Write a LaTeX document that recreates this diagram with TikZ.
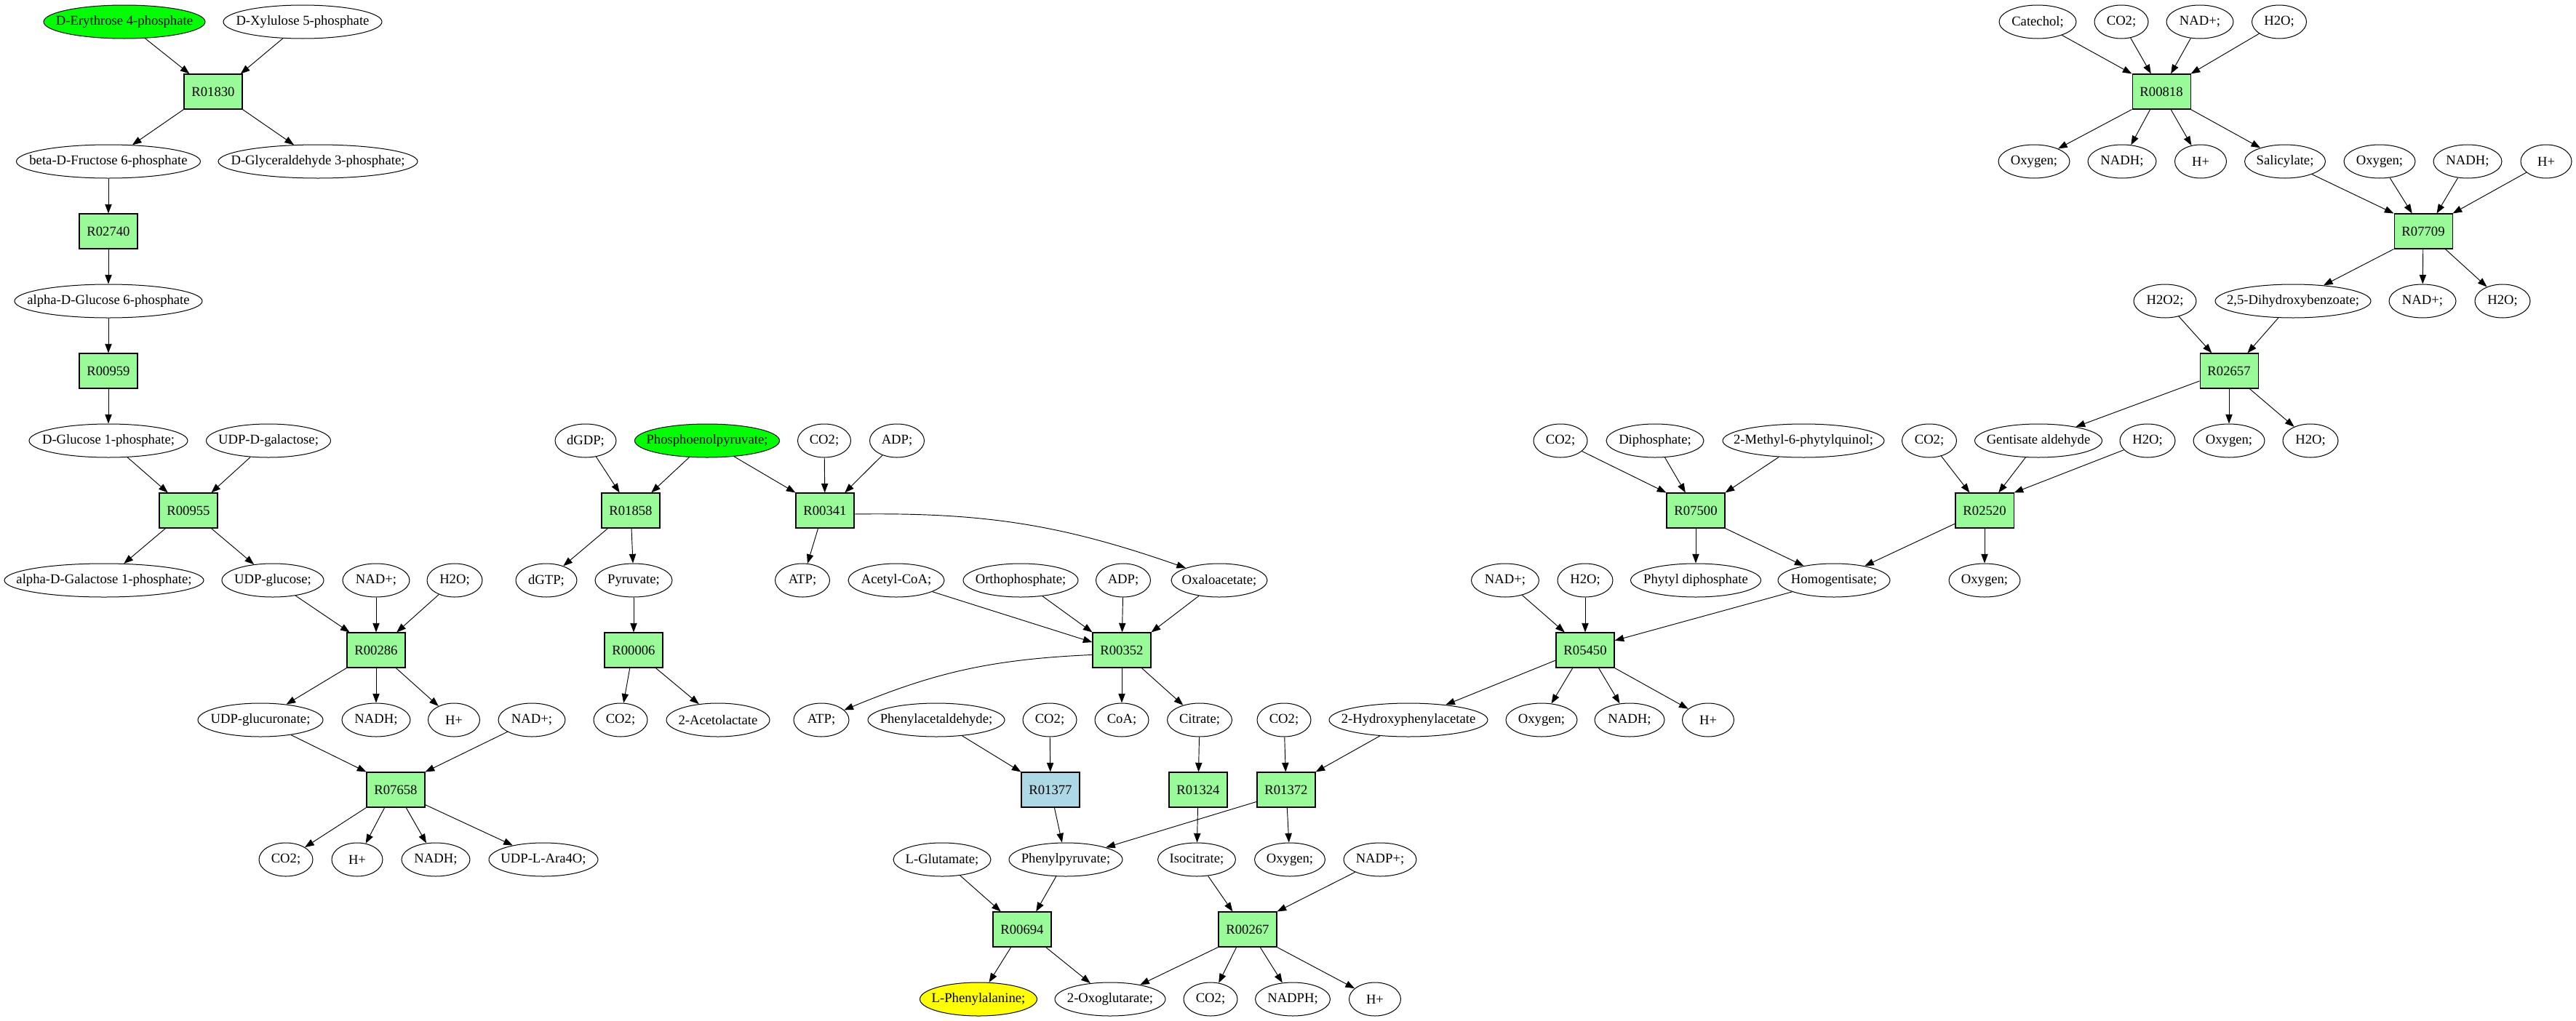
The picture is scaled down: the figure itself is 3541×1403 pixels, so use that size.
\documentclass[tikz,border=0pt]{standalone}
\usepackage{fontspec}
\setmainfont{Liberation Serif}
\usetikzlibrary{shapes.geometric,arrows.meta}
\definecolor{pgreen}{HTML}{98FB98}
\definecolor{lblue}{HTML}{ADD8E6}
\definecolor{vgreen}{HTML}{00FF00}
\definecolor{vyellow}{HTML}{FFFF00}
\newcommand\mlbl[1]{\makebox[0pt]{#1}}
\begin{document}
\begin{tikzpicture}[x=0.75pt,y=-0.75pt,
  met/.style={ellipse, draw, line width=0.75pt, inner sep=0pt, minimum height=34.5pt, minimum width=#1*0.75pt, font=\fontsize{14pt}{16pt}\selectfont},
  rxn/.style={rectangle, draw, line width=0.8pt, fill=pgreen, minimum width=60pt, minimum height=36pt, inner sep=0pt, font=\fontsize{14pt}{16pt}\selectfont},
  ed/.style={-{Triangle[length=9.5pt,width=7pt]}, line width=0.7pt}]
\useasboundingbox (0,0) rectangle (3541,1403);
% rank 0
\node[met=222, fill=vgreen] (ery) at (171,30) {\mlbl{D-Erythrose 4-phosphate}};
\node[met=218] (xyl) at (416,30) {\mlbl{D-Xylulose 5-phosphate}};
\node[met=106] (cat) at (2801,30) {\mlbl{Catechol;}};
\node[met=74] (co2a) at (2916,30) {\mlbl{CO2;}};
\node[met=92] (nada) at (3024,30) {\mlbl{NAD+;}};
\node[met=75] (h2oa) at (3133,30) {\mlbl{H2O;}};
% rank 1
\node[rxn] (r01830) at (293,126) {R01830};
\node[rxn] (r00818) at (2971,126) {R00818};
% rank 2
\node[met=253] (fru) at (149,222) {\mlbl{beta-D-Fructose 6-phosphate}};
\node[met=274] (gap) at (437,222) {\mlbl{D-Glyceraldehyde 3-phosphate;}};
\node[met=98] (oxya) at (2796,222) {\mlbl{Oxygen;}};
\node[met=94] (nadha) at (2917,222) {\mlbl{NADH;}};
\node[met=71] (hpa) at (3025,222) {\mlbl{H+}};
\node[met=111] (sal) at (3141,222) {\mlbl{Salicylate;}};
\node[met=98] (oxyb) at (3271,222) {\mlbl{Oxygen;}};
\node[met=94] (nadhb) at (3392,222) {\mlbl{NADH;}};
\node[met=70] (hpb) at (3500,222) {\mlbl{H+}};
% rank 3
\node[rxn] (r02740) at (149,318) {R02740};
\node[rxn] (r07709) at (3331,318) {R07709};
% rank 4
\node[met=258] (g6p) at (149,414) {\mlbl{alpha-D-Glucose 6-phosphate}};
\node[met=86] (h2o2) at (2976,414) {\mlbl{H2O2;}};
\node[met=214] (dhb) at (3152,414) {\mlbl{2,5-Dihydroxybenzoate;}};
\node[met=92] (nadb) at (3330,414) {\mlbl{NAD+;}};
\node[met=76] (h2ob) at (3440,414) {\mlbl{H2O;}};
% rank 5
\node[rxn] (r00959) at (149,510) {R00959};
\node[rxn] (r02657) at (3064,510) {R02657};
% rank 6
\node[met=218] (g1p) at (149,606) {\mlbl{D-Glucose 1-phosphate;}};
\node[met=171] (udpgal) at (369,606) {\mlbl{UDP-D-galactose;}};
\node[met=84] (dgdp) at (805,606) {\mlbl{dGDP;}};
\node[met=199, fill=vgreen] (pep) at (972,606) {\mlbl{Phosphoenolpyruvate;}};
\node[met=73] (co2b) at (1133,606) {\mlbl{CO2;}};
\node[met=75] (adpa) at (1233,606) {\mlbl{ADP;}};
\node[met=74] (co2c) at (2145,606) {\mlbl{CO2;}};
\node[met=134] (diphos) at (2275,606) {\mlbl{Diphosphate;}};
\node[met=222] (mpq) at (2479,606) {\mlbl{2-Methyl-6-phytylquinol;}};
\node[met=75] (co2d) at (2652,606) {\mlbl{CO2;}};
\node[met=175] (gent) at (2802,606) {\mlbl{Gentisate aldehyde}};
\node[met=76] (h2oc) at (2952,606) {\mlbl{H2O;}};
\node[met=98] (oxyc) at (3064,606) {\mlbl{Oxygen;}};
\node[met=76] (h2od) at (3176,606) {\mlbl{H2O;}};
% rank 7
\node[rxn] (r00955) at (259,702) {R00955};
\node[rxn] (r01858) at (867,702) {R01858};
\node[rxn] (r00341) at (1134,702) {R00341};
\node[rxn] (r07500) at (2331,702) {R07500};
\node[rxn] (r02520) at (2728,702) {R02520};
% rank 8
\node[met=274] (agal) at (143,798) {\mlbl{alpha-D-Galactose 1-phosphate;}};
\node[met=140] (udpglc) at (375,798) {\mlbl{UDP-glucose;}};
\node[met=92] (nadc) at (517,798) {\mlbl{NAD+;}};
\node[met=76] (h2oe) at (625,798) {\mlbl{H2O;}};
\node[met=84] (dgtp) at (751,798) {\mlbl{dGTP;}};
\node[met=106] (pyr) at (871,798) {\mlbl{Pyruvate;}};
\node[met=75] (atpa) at (1103,798) {\mlbl{ATP;}};
\node[met=132] (accoa) at (1232,798) {\mlbl{Acetyl-CoA;}};
\node[met=158] (orth) at (1403,798) {\mlbl{Orthophosphate;}};
\node[met=75] (adpb) at (1544,798) {\mlbl{ADP;}};
\node[met=132] (oaa) at (1676,798) {\mlbl{Oxaloacetate;}};
\node[met=93] (nadd) at (2069,798) {\mlbl{NAD+;}};
\node[met=76] (h2of) at (2179,798) {\mlbl{H2O;}};
\node[met=179] (phytyl) at (2331,798) {\mlbl{Phytyl diphosphate}};
\node[met=154] (hgn) at (2521,798) {\mlbl{Homogentisate;}};
\node[met=98] (oxyd) at (2728,798) {\mlbl{Oxygen;}};
% rank 9
\node[rxn] (r00286) at (517,894) {R00286};
\node[rxn] (r00006) at (871,894) {R00006};
\node[rxn] (r00352) at (1542,894) {R00352};
\node[rxn] (r05450) at (2179,894) {R05450};
% rank 10
\node[met=172] (udpgca) at (358,990) {\mlbl{UDP-glucuronate;}};
\node[met=94] (nadhc) at (517,990) {\mlbl{NADH;}};
\node[met=71] (hpc) at (624,990) {\mlbl{H+}};
\node[met=92] (nade) at (731,990) {\mlbl{NAD+;}};
\node[met=74] (co2e) at (853,990) {\mlbl{CO2;}};
\node[met=142] (acl) at (987,990) {\mlbl{2-Acetolactate}};
\node[met=76] (atpb) at (1129,990) {\mlbl{ATP;}};
\node[met=188] (pacet) at (1287,990) {\mlbl{Phenylacetaldehyde;}};
\node[met=74] (co2f) at (1443,990) {\mlbl{CO2;}};
\node[met=74] (coa) at (1542,990) {\mlbl{CoA;}};
\node[met=89] (cit) at (1649,990) {\mlbl{Citrate;}};
\node[met=74] (co2g) at (1765,990) {\mlbl{CO2;}};
\node[met=218] (hpa2) at (1936,990) {\mlbl{2-Hydroxyphenylacetate}};
\node[met=98] (oxye) at (2119,990) {\mlbl{Oxygen;}};
\node[met=96] (nadhd) at (2240,990) {\mlbl{NADH;}};
\node[met=71] (hpd) at (2348,990) {\mlbl{H+}};
% rank 11
\node[rxn] (r07658) at (544,1086) {R07658};
\node[rxn, fill=lblue] (r01377) at (1444,1086) {R01377};
\node[rxn] (r01324) at (1647,1086) {R01324};
\node[rxn] (r01372) at (1768,1086) {R01372};
% rank 12
\node[met=74] (co2h) at (393,1182) {\mlbl{CO2;}};
\node[met=70] (hpe) at (491,1182) {\mlbl{H+}};
\node[met=94] (nadhe) at (599,1182) {\mlbl{NADH;}};
\node[met=150] (udpara) at (747,1182) {\mlbl{UDP-L-Ara4O;}};
\node[met=134] (lglu) at (1295,1182) {\mlbl{L-Glutamate;}};
\node[met=156] (ppyr) at (1465,1182) {\mlbl{Phenylpyruvate;}};
\node[met=107] (icit) at (1645,1182) {\mlbl{Isocitrate;}};
\node[met=97] (oxyf) at (1773,1182) {\mlbl{Oxygen;}};
\node[met=100] (nadp) at (1897,1182) {\mlbl{NADP+;}};
% rank 13
\node[rxn] (r00694) at (1405,1278) {R00694};
\node[rxn] (r00267) at (1715,1278) {R00267};
% rank 14
\node[met=161, fill=vyellow] (lphe) at (1345,1374) {\mlbl{L-Phenylalanine;}};
\node[met=152] (oxog) at (1526,1374) {\mlbl{2-Oxoglutarate;}};
\node[met=74] (co2i) at (1664,1374) {\mlbl{CO2;}};
\node[met=103] (nadph) at (1777,1374) {\mlbl{NADPH;}};
\node[met=71] (hpf) at (1890,1374) {\mlbl{H+}};
% edges
\draw[ed] (ery) -- (r01830.143);
\draw[ed] (xyl) -- (r01830.33);
\draw[ed] (r01830.south west) -- (fru);
\draw[ed] (r01830.south east) -- (gap);
\draw[ed] (fru) -- (r02740);
\draw[ed] (r02740) -- (g6p);
\draw[ed] (g6p) -- (r00959);
\draw[ed] (r00959) -- (g1p);
\draw[ed] (g1p) -- (r00955.139);
\draw[ed] (udpgal) -- (r00955.38);
\draw[ed] (r00955.218) -- (agal);
\draw[ed] (r00955.-38) -- (udpglc);
\draw[ed] (udpglc) -- (r00286.146);
\draw[ed] (nadc) -- (r00286);
\draw[ed] (h2oe) -- (r00286.41);
\draw[ed] (r00286.south west) -- (udpgca);
\draw[ed] (r00286) -- (nadhc);
\draw[ed] (r00286.-42) -- (hpc);
\draw[ed] (udpgca) -- (r07658.north west);
\draw[ed] (nade) -- (r07658.north east);
\draw[ed] (r07658.south west) -- (co2h);
\draw[ed] (r07658.-122) -- (hpe);
\draw[ed] (r07658.-60) -- (nadhe);
\draw[ed] (r07658.-27) -- (udpara);
\draw[ed] (dgdp) -- (r01858.122);
\draw[ed] (pep) -- (r01858.41);
\draw[ed] (pep) -- (r00341.north west);
\draw[ed] (co2b) -- (r00341);
\draw[ed] (adpa) -- (r00341.42);
\draw[ed] (r01858.-142) -- (dgtp);
\draw[ed] (r01858) -- (pyr);
\draw[ed] (r00341.-111) -- (atpa);
\draw[ed] (r00341.-7) to[bend left=10] (oaa);
\draw[ed] (pyr) -- (r00006);
\draw[ed] (r00006.-102) -- (co2e);
\draw[ed] (r00006.-39) -- (acl);
\draw[ed] (accoa) -- (r00352.165);
\draw[ed] (orth) -- (r00352.north west);
\draw[ed] (adpb) -- (r00352);
\draw[ed] (oaa) -- (r00352.north east);
\draw[ed] (r00352.189) to[bend right=10] (atpb);
\draw[ed] (r00352) -- (coa);
\draw[ed] (r00352.-42) -- (cit);
\draw[ed] (pacet) -- (r01377.north west);
\draw[ed] (co2f) -- (r01377);
\draw[ed] (r01377) -- (ppyr);
\draw[ed] (cit) -- (r01324);
\draw[ed] (r01324) -- (icit);
\draw[ed] (co2g) -- (r01372);
\draw[ed] (hpa2) -- (r01372.north east);
\draw[ed] (r01372.202) -- (ppyr);
\draw[ed] (r01372) -- (oxyf);
\draw[ed] (lglu) -- (r00694.140);
\draw[ed] (ppyr) -- (r00694.52);
\draw[ed] (icit) -- (r00267.130);
\draw[ed] (nadp) -- (r00267.north east);
\draw[ed] (r00694.-122) -- (lphe);
\draw[ed] (r00694.-37) -- (oxog);
\draw[ed] (r00267.south west) -- (oxog);
\draw[ed] (r00267.-122) -- (co2i);
\draw[ed] (r00267.-55) -- (nadph);
\draw[ed] (r00267.south east) -- (hpf);
\draw[ed] (co2c) -- (r07500.north west);
\draw[ed] (diphos) -- (r07500.120);
\draw[ed] (mpq) -- (r07500.north east);
\draw[ed] (co2d) -- (r02520.130);
\draw[ed] (gent) -- (r02520.52);
\draw[ed] (h2oc) -- (r02520.north east);
\draw[ed] (r07500) -- (phytyl);
\draw[ed] (r07500.south east) -- (hgn);
\draw[ed] (r02520.204) -- (hgn);
\draw[ed] (r02520) -- (oxyd);
\draw[ed] (nadd) -- (r05450.139);
\draw[ed] (h2of) -- (r05450);
\draw[ed] (hgn) -- (r05450.18);
\draw[ed] (r05450.199) -- (hpa2);
\draw[ed] (r05450.-125) -- (oxye);
\draw[ed] (r05450.-53) -- (nadhd);
\draw[ed] (r05450.south east) -- (hpd);
\draw[ed] (cat) -- (r00818.north west);
\draw[ed] (co2a) -- (r00818.120);
\draw[ed] (nada) -- (r00818.62);
\draw[ed] (h2oa) -- (r00818.north east);
\draw[ed] (r00818.south west) -- (oxya);
\draw[ed] (r00818.-122) -- (nadha);
\draw[ed] (r00818.-62) -- (hpa);
\draw[ed] (r00818.south east) -- (sal);
\draw[ed] (sal) -- (r07709.north west);
\draw[ed] (oxyb) -- (r07709.122);
\draw[ed] (nadhb) -- (r07709.53);
\draw[ed] (hpb) -- (r07709.north east);
\draw[ed] (r07709.south west) -- (dhb);
\draw[ed] (r07709) -- (nadb);
\draw[ed] (r07709.-39) -- (h2ob);
\draw[ed] (h2o2) -- (r02657.134);
\draw[ed] (dhb) -- (r02657.44);
\draw[ed] (r02657.199) -- (gent);
\draw[ed] (r02657) -- (oxyc);
\draw[ed] (r02657.-41) -- (h2od);
\end{tikzpicture}
\end{document}
